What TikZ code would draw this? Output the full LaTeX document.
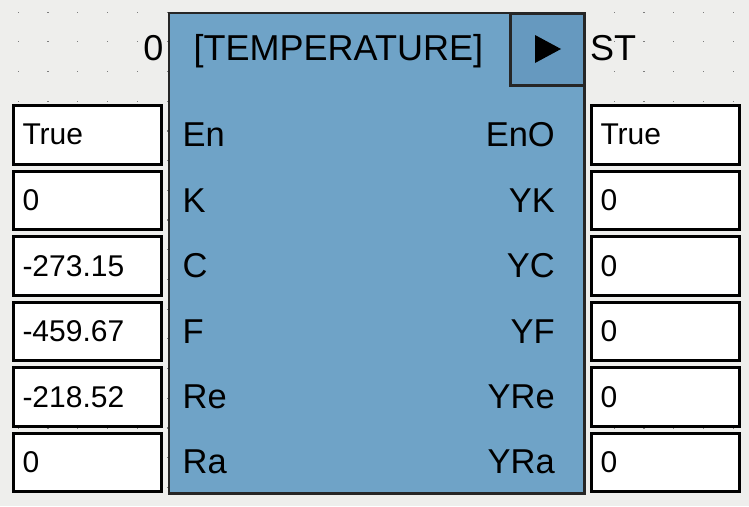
\documentclass[tikz,border=0pt]{standalone}
\usepackage{fontspec}
\setmainfont{Liberation Sans}
\definecolor{bgc}{RGB}{238,238,236}
\definecolor{blockfill}{RGB}{111,163,199}
\definecolor{btnfill}{RGB}{102,153,191}
\definecolor{blockline}{RGB}{38,38,38}
\definecolor{dotc}{RGB}{125,125,125}
\tikzset{
  valbox/.style={draw=black, line width=3pt, fill=white, minimum width=148pt, minimum height=58.5pt,
    text width=130pt, align=left, inner xsep=9pt, inner ysep=0pt, font=\fontsize{30}{35}\selectfont},
  pinl/.style={anchor=west, inner sep=0pt, font=\fontsize{34.5}{40}\selectfont},
  pinr/.style={anchor=east, inner sep=0pt, font=\fontsize{34.5}{40}\selectfont},
  bigtxt/.style={inner sep=0pt, font=\fontsize{36}{42}\selectfont},
}
\begin{document}
\begin{tikzpicture}[x=1pt,y=-1pt]
\fill[bgc] (0,0) rectangle (749,506);
\useasboundingbox (0,0) rectangle (749,506);
% grid dots
\foreach \i in {0,...,24}{
  \foreach \j in {0,...,16}{
    \fill[dotc] ({18+29.8*\i-0.5},{12+29.7*\j-0.5}) rectangle ++(1.2,1.2);
  }
}
% block
\node[draw=blockline, line width=2.5pt, fill=blockfill, minimum width=415.5pt, minimum height=480.5pt, inner sep=0pt]
  (blk) at (376.75,253.25) {};
% button
\node[draw=blockline, line width=3pt, fill=btnfill, minimum width=74.5pt, minimum height=72.5pt, inner sep=0pt]
  (btn) at (547.25,49.5) {};
\fill[black] (535,35) -- (535,63) -- (561,49) -- cycle;
% title and outside labels
\node[bigtxt, anchor=base west] (title) at (193.5,60) {[TEMPERATURE]};
\node[bigtxt, anchor=base east] (zero) at (163.5,60) {0};
\node[bigtxt, anchor=base west] (st) at (590,60) {ST};
% rows
\foreach \k/\lv/\pl/\pr/\rv in {0/True/En/EnO/True, 1/0/K/YK/0, 2/-273.15/C/YC/0, 3/-459.67/F/YF/0, 4/-218.52/Re/YRe/0, 5/0/Ra/YRa/0}{
  \node[valbox] (in\k) at (87.5,{134.75+65.5*\k}) {\lv};
  \node[valbox] (out\k) at (665.5,{134.75+65.5*\k}) {\rv};
  \node[pinl] (pi\k) at (182.5,{134.75+65.5*\k}) {\pl};
  \node[pinr] (po\k) at (555,{134.75+65.5*\k}) {\pr};
}
\end{tikzpicture}
\end{document}
